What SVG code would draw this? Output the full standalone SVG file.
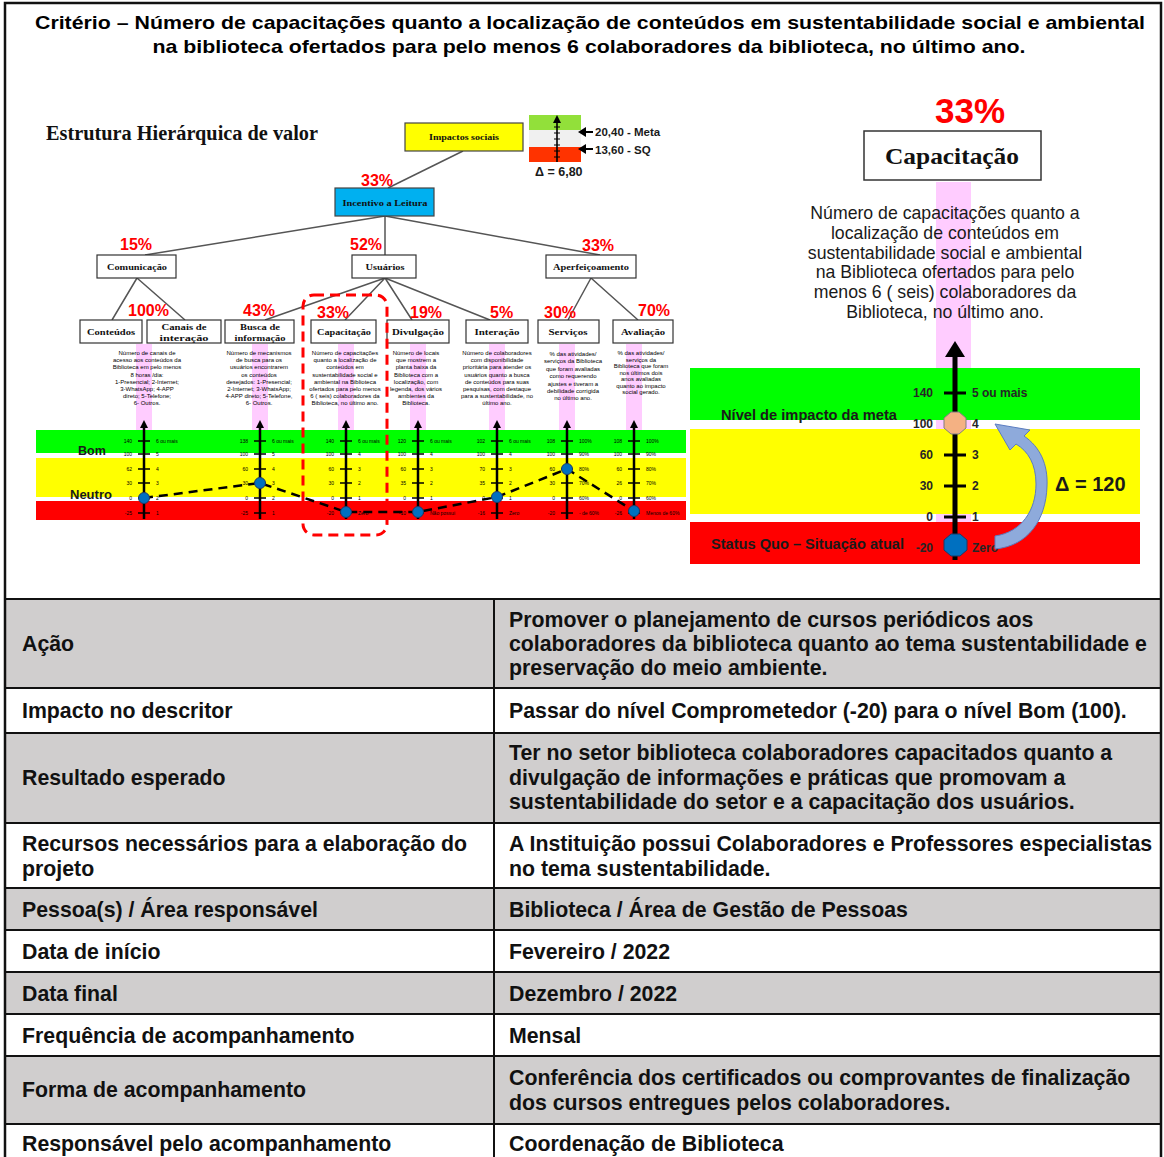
<svg xmlns="http://www.w3.org/2000/svg" width="1164" height="1157" viewBox="0 0 1164 1157">
<style>
.tt{font-family:"Liberation Sans",Arial,sans-serif;font-weight:bold;font-size:19px;fill:#000}
.tb{font-family:"Liberation Sans",Arial,sans-serif;font-weight:bold;font-size:21.3px;fill:#111}
.ser{font-family:"Liberation Serif","Times New Roman",serif;font-weight:bold;fill:#111}
.box{fill:#fff;stroke:#333;stroke-width:1.2}
.pct{font-family:"Liberation Sans",Arial,sans-serif;font-weight:bold;font-size:16px;fill:#ff0000}
.ln{stroke:#555;stroke-width:1.5;fill:none}
.ds{font-family:"Liberation Sans",Arial,sans-serif;font-size:6px;fill:#000;text-anchor:middle}
.tk{font-family:"Liberation Sans",Arial,sans-serif;font-size:5px;fill:#000}
.tkl{text-anchor:end}
.ax{stroke:#000;stroke-width:2.5}
.tick{stroke:#000;stroke-width:1.6}
.pt{fill:#0070c0;stroke:#1f3864;stroke-width:1}
.pink{fill:#ffccff}
.lab{font-family:"Liberation Sans",Arial,sans-serif;font-weight:bold;fill:#1a1a1a}
.rt{font-family:"Liberation Sans",Arial,sans-serif;font-size:17.7px;fill:#1a1a1a;text-anchor:middle}
.rk{font-family:"Liberation Sans",Arial,sans-serif;font-weight:bold;font-size:12px;fill:#262626}
.grid{stroke:#111;stroke-width:2}
</style>

<!-- table background -->
<g id="table">
<rect x="5" y="599" width="1157" height="89" fill="#d0cece"/>
<rect x="5" y="733" width="1157" height="90" fill="#d0cece"/>
<rect x="5" y="888" width="1157" height="42" fill="#d0cece"/>
<rect x="5" y="972" width="1157" height="42" fill="#d0cece"/>
<rect x="5" y="1056" width="1157" height="68" fill="#d0cece"/>
<rect x="5" y="3" width="1156" height="1165" fill="none" stroke="#111" stroke-width="2.5"/>
<path class="grid" d="M5 599H1162M5 688H1162M5 733H1162M5 823H1162M5 888H1162M5 930H1162M5 972H1162M5 1014H1162M5 1056H1162M5 1124H1162M494 599V1157"/>

<text class="tb" x="22" y="651">Ação</text>
<text class="tb" x="509" y="627">Promover o planejamento de cursos periódicos aos</text>
<text class="tb" x="509" y="651">colaboradores da biblioteca quanto ao tema sustentabilidade e</text>
<text class="tb" x="509" y="675">preservação do meio ambiente.</text>

<text class="tb" x="22" y="718">Impacto no descritor</text>
<text class="tb" x="509" y="718">Passar do nível Comprometedor (-20) para o nível Bom (100).</text>

<text class="tb" x="22" y="785">Resultado esperado</text>
<text class="tb" x="509" y="760">Ter no setor biblioteca colaboradores capacitados quanto a</text>
<text class="tb" x="509" y="785">divulgação de informações e práticas que promovam a</text>
<text class="tb" x="509" y="809">sustentabilidade do setor e a capacitação dos usuários.</text>

<text class="tb" x="22" y="851">Recursos necessários para a elaboração do</text>
<text class="tb" x="22" y="876">projeto</text>
<text class="tb" x="509" y="851">A Instituição possui Colaboradores e Professores especialistas</text>
<text class="tb" x="509" y="876">no tema sustentabilidade.</text>

<text class="tb" x="22" y="917">Pessoa(s) / Área responsável</text>
<text class="tb" x="509" y="917">Biblioteca / Área de Gestão de Pessoas</text>

<text class="tb" x="22" y="959">Data de início</text>
<text class="tb" x="509" y="959">Fevereiro / 2022</text>

<text class="tb" x="22" y="1001">Data final</text>
<text class="tb" x="509" y="1001">Dezembro / 2022</text>

<text class="tb" x="22" y="1043">Frequência de acompanhamento</text>
<text class="tb" x="509" y="1043">Mensal</text>

<text class="tb" x="22" y="1097">Forma de acompanhamento</text>
<text class="tb" x="509" y="1085">Conferência dos certificados ou comprovantes de finalização</text>
<text class="tb" x="509" y="1110">dos cursos entregues pelos colaboradores.</text>

<text class="tb" x="22" y="1151">Responsável pelo acompanhamento</text>
<text class="tb" x="509" y="1151">Coordenação de Biblioteca</text>
</g>

<g id="title">
<text class="tt" x="590" y="29" text-anchor="middle" textLength="1110" lengthAdjust="spacingAndGlyphs">Critério – Número de capacitações quanto a localização de conteúdos em sustentabilidade social e ambiental</text>
<text class="tt" x="589" y="53" text-anchor="middle" textLength="873" lengthAdjust="spacingAndGlyphs">na biblioteca ofertados para pelo menos 6 colaboradores da biblioteca, no último ano.</text>
</g>

<text class="ser" x="46" y="140" font-size="20" textLength="272" lengthAdjust="spacingAndGlyphs">Estrutura Hierárquica de valor</text>

<!-- mini scale -->
<g id="mini-scale">
<rect x="529" y="115" width="52" height="15" fill="#92e03a"/>
<rect x="529" y="130" width="52" height="17" fill="#f0f0f0"/>
<rect x="529" y="147" width="52" height="15" fill="#ff3300"/>
<line x1="557" y1="162" x2="557" y2="121" stroke="#000" stroke-width="1.6"/>
<polygon points="557,115 553,123 561,123" fill="#000"/>
<path d="M554 127h6M554 133h6M554 139h6M554 145h6M554 151h6M554 157h6" stroke="#000" stroke-width="1"/>
<path d="M593 132H584M593 149H584" stroke="#000" stroke-width="2.2"/>
<polygon points="578,132 586,127 586,137" fill="#000"/>
<polygon points="578,149 586,144 586,154" fill="#000"/>
<text class="lab" x="595" y="136" font-size="11.5">20,40 - Meta</text>
<text class="lab" x="595" y="154" font-size="11.5">13,60 - SQ</text>
<text class="lab" x="535" y="176" font-size="12.5">Δ = 6,80</text>
</g>

<!-- connectors -->
<g id="connectors">
<path class="ln" d="M463 151L388 188"/>
<path class="ln" d="M385 216L145 255M385 216V255M385 216L600 255"/>
<path class="ln" d="M137 278L112 320M137 278L185 320"/>
<path class="ln" d="M385 278L265 320M385 278L345 320M385 278L412 320M385 278L490 320"/>
<path class="ln" d="M591 278L568 320M591 278L638 320"/>
</g>

<!-- tree nodes -->
<g id="n-impactos">
<rect x="405" y="123" width="118" height="28" fill="#ffff00" stroke="#444" stroke-width="1.2"/>
<text class="ser" x="464" y="140" font-size="8.5" text-anchor="middle" textLength="70" lengthAdjust="spacingAndGlyphs">Impactos sociais</text>
</g>
<g id="n-incentivo">
<text class="pct" x="361" y="186">33%</text>
<rect x="335" y="188" width="99" height="28" fill="#00b0f0" stroke="#444" stroke-width="1.2"/>
<text class="ser" x="385" y="206" font-size="8.5" text-anchor="middle" textLength="85" lengthAdjust="spacingAndGlyphs">Incentivo a Leitura</text>
</g>
<g id="n-comunicacao">
<text class="pct" x="120" y="250">15%</text>
<rect class="box" x="97" y="255" width="79" height="23"/>
<text class="ser" x="137" y="270" font-size="9" text-anchor="middle" textLength="60" lengthAdjust="spacingAndGlyphs">Comunicação</text>
</g>
<g id="n-usuarios">
<text class="pct" x="350" y="250">52%</text>
<rect class="box" x="352" y="255" width="64" height="23"/>
<text class="ser" x="385" y="270" font-size="9" text-anchor="middle" textLength="39" lengthAdjust="spacingAndGlyphs">Usuários</text>
</g>
<g id="n-aperfeicoamento">
<text class="pct" x="582" y="251">33%</text>
<rect class="box" x="546" y="255" width="90" height="23"/>
<text class="ser" x="591" y="270" font-size="9" text-anchor="middle" textLength="76" lengthAdjust="spacingAndGlyphs">Aperfeiçoamento</text>
</g>

<text class="pct" x="128" y="316">100%</text>
<g id="n-conteudos">
<rect class="box" x="80" y="320" width="62" height="23"/>
<text class="ser" x="111" y="335" font-size="9" text-anchor="middle" textLength="48" lengthAdjust="spacingAndGlyphs">Conteúdos</text>
</g>
<g id="n-canais">
<rect class="box" x="147" y="320" width="74" height="23"/>
<text class="ser" x="184" y="330" font-size="9" text-anchor="middle" textLength="45" lengthAdjust="spacingAndGlyphs">Canais de</text>
<text class="ser" x="184" y="341" font-size="9" text-anchor="middle" textLength="49" lengthAdjust="spacingAndGlyphs">interação</text>
</g>
<g id="n-busca">
<text class="pct" x="243" y="316">43%</text>
<rect class="box" x="225" y="320" width="69" height="23"/>
<text class="ser" x="260" y="330" font-size="9" text-anchor="middle" textLength="40" lengthAdjust="spacingAndGlyphs">Busca de</text>
<text class="ser" x="260" y="341" font-size="9" text-anchor="middle" textLength="51" lengthAdjust="spacingAndGlyphs">informação</text>
</g>
<g id="n-capacitacao">
<text class="pct" x="317" y="318">33%</text>
<rect class="box" x="311" y="320" width="65" height="23"/>
<text class="ser" x="344" y="335" font-size="9" text-anchor="middle" textLength="54" lengthAdjust="spacingAndGlyphs">Capacitação</text>
</g>
<g id="n-divulgacao">
<text class="pct" x="410" y="318">19%</text>
<rect class="box" x="387" y="320" width="62" height="23"/>
<text class="ser" x="418" y="335" font-size="9" text-anchor="middle" textLength="52" lengthAdjust="spacingAndGlyphs">Divulgação</text>
</g>
<g id="n-interacao">
<text class="pct" x="490" y="318">5%</text>
<rect class="box" x="466" y="320" width="62" height="23"/>
<text class="ser" x="497" y="335" font-size="9" text-anchor="middle" textLength="45" lengthAdjust="spacingAndGlyphs">Interação</text>
</g>
<g id="n-servicos">
<text class="pct" x="544" y="318">30%</text>
<rect class="box" x="538" y="320" width="61" height="23"/>
<text class="ser" x="568" y="335" font-size="9" text-anchor="middle" textLength="39" lengthAdjust="spacingAndGlyphs">Serviços</text>
</g>
<g id="n-avaliacao">
<text class="pct" x="638" y="316">70%</text>
<rect class="box" x="613" y="320" width="60" height="23"/>
<text class="ser" x="643" y="335" font-size="9" text-anchor="middle" textLength="44" lengthAdjust="spacingAndGlyphs">Avaliação</text>
</g>

<!-- pink strips -->
<g id="pink-strips">
<rect class="pink" x="136" y="344" width="16" height="86"/>
<rect class="pink" x="252" y="344" width="16" height="86"/>
<rect class="pink" x="338" y="344" width="16" height="86"/>
<rect class="pink" x="410" y="344" width="16" height="86"/>
<rect class="pink" x="489" y="344" width="16" height="86"/>
<rect class="pink" x="559" y="344" width="16" height="86"/>
<rect class="pink" x="626" y="344" width="16" height="86"/>
</g>

<!-- descriptors -->
<g id="descriptors">
<text class="ds" x="147" y="355"><tspan x="147">Número de canais de</tspan><tspan x="147" dy="7.2">acesso aos conteúdos da</tspan><tspan x="147" dy="7.2">Biblioteca em pelo menos</tspan><tspan x="147" dy="7.2">8 horas /dia:</tspan><tspan x="147" dy="7.2">1-Presencial; 2-Internet;</tspan><tspan x="147" dy="7.2">3-WhatsApp; 4-APP</tspan><tspan x="147" dy="7.2">direto; 5-Telefone;</tspan><tspan x="147" dy="7.2">6- Outros.</tspan></text>
<text class="ds" x="259" y="355"><tspan x="259">Número de mecanismos</tspan><tspan x="259" dy="7.2">de busca para os</tspan><tspan x="259" dy="7.2">usuários encontrarem</tspan><tspan x="259" dy="7.2">os conteúdos</tspan><tspan x="259" dy="7.2">desejados: 1-Presencial;</tspan><tspan x="259" dy="7.2">2-Internet; 3-WhatsApp;</tspan><tspan x="259" dy="7.2">4-APP direto; 5-Telefone,</tspan><tspan x="259" dy="7.2">6- Outros.</tspan></text>
<text class="ds" x="345" y="355"><tspan x="345">Número de capacitações</tspan><tspan x="345" dy="7.2">quanto a localização de</tspan><tspan x="345" dy="7.2">conteúdos em</tspan><tspan x="345" dy="7.2">sustentabilidade social e</tspan><tspan x="345" dy="7.2">ambiental na Biblioteca</tspan><tspan x="345" dy="7.2">ofertados para pelo menos</tspan><tspan x="345" dy="7.2">6 ( seis) colaboradores da</tspan><tspan x="345" dy="7.2">Biblioteca, no último ano.</tspan></text>
<text class="ds" x="416" y="355"><tspan x="416">Número de locais</tspan><tspan x="416" dy="7.2">que mostrem a</tspan><tspan x="416" dy="7.2">planta baixa da</tspan><tspan x="416" dy="7.2">Biblioteca com a</tspan><tspan x="416" dy="7.2">localização, com</tspan><tspan x="416" dy="7.2">legenda, dos vários</tspan><tspan x="416" dy="7.2">ambientes da</tspan><tspan x="416" dy="7.2">Biblioteca.</tspan></text>
<text class="ds" x="497" y="355"><tspan x="497">Número de colaboradores</tspan><tspan x="497" dy="7.2">com disponibilidade</tspan><tspan x="497" dy="7.2">prioritária para atender os</tspan><tspan x="497" dy="7.2">usuários quanto a busca</tspan><tspan x="497" dy="7.2">de conteúdos para suas</tspan><tspan x="497" dy="7.2">pesquisas, com destaque</tspan><tspan x="497" dy="7.2">para a sustentabilidade, no</tspan><tspan x="497" dy="7.2">último ano.</tspan></text>
<text class="ds" x="573" y="356"><tspan x="573">% das atividades/</tspan><tspan x="573" dy="7.4">serviços da Biblioteca</tspan><tspan x="573" dy="7.4">que foram avaliadas</tspan><tspan x="573" dy="7.4">como requerendo</tspan><tspan x="573" dy="7.4">ajustes e tiveram a</tspan><tspan x="573" dy="7.4">debilidade corrigida</tspan><tspan x="573" dy="7.4">no último ano.</tspan></text>
<text class="ds" x="641" y="355" font-size="4.3"><tspan x="641">% das atividades/</tspan><tspan x="641" dy="6.5">serviços  da</tspan><tspan x="641" dy="6.5">Biblioteca que foram</tspan><tspan x="641" dy="6.5">nos últimos dois</tspan><tspan x="641" dy="6.5">anos avaliadas</tspan><tspan x="641" dy="6.5">quanto ao impacto</tspan><tspan x="641" dy="6.5">social gerado.</tspan></text>
</g>

<!-- left chart bands -->
<g id="bands-left">
<rect x="36" y="430" width="650" height="23" fill="#00ff00"/>
<rect x="36" y="458" width="650" height="39" fill="#ffff00"/>
<rect x="36" y="501" width="650" height="19" fill="#ff0000"/>
<text class="lab" x="78" y="455" font-size="12.5" fill="#111">Bom</text>
<text class="lab" x="70" y="499" font-size="13" fill="#111">Neutro</text>
</g>

<!-- axes -->
<g id="axis-1" transform="translate(144,0)">
<line class="ax" x1="0" y1="426" x2="0" y2="519"/><polygon points="0,420 -4,428 4,428"/>
<path class="tick" d="M-6 441h12M-6 454h12M-6 469h12M-6 483h12M-6 498h12M-6 513h12"/>
<text class="tk tkl" x="-12" y="443">140</text><text class="tk tkl" x="-12" y="456">100</text><text class="tk tkl" x="-12" y="471">62</text><text class="tk tkl" x="-12" y="485">30</text><text class="tk tkl" x="-12" y="500">0</text><text class="tk tkl" x="-12" y="515">-25</text>
<text class="tk" x="12" y="443">6 ou mais</text><text class="tk" x="12" y="456">5</text><text class="tk" x="12" y="471">4</text><text class="tk" x="12" y="485">3</text><text class="tk" x="12" y="500">2</text><text class="tk" x="12" y="515">1</text>
</g>
<g id="axis-2" transform="translate(260,0)">
<line class="ax" x1="0" y1="426" x2="0" y2="519"/><polygon points="0,420 -4,428 4,428"/>
<path class="tick" d="M-6 441h12M-6 454h12M-6 469h12M-6 483h12M-6 498h12M-6 513h12"/>
<text class="tk tkl" x="-12" y="443">138</text><text class="tk tkl" x="-12" y="456">100</text><text class="tk tkl" x="-12" y="471">60</text><text class="tk tkl" x="-12" y="485">30</text><text class="tk tkl" x="-12" y="500">0</text><text class="tk tkl" x="-12" y="515">-25</text>
<text class="tk" x="12" y="443">6 ou mais</text><text class="tk" x="12" y="456">5</text><text class="tk" x="12" y="471">4</text><text class="tk" x="12" y="485">3</text><text class="tk" x="12" y="500">2</text><text class="tk" x="12" y="515">1</text>
</g>
<g id="axis-3" transform="translate(346,0)">
<line class="ax" x1="0" y1="426" x2="0" y2="519"/><polygon points="0,420 -4,428 4,428"/>
<path class="tick" d="M-6 441h12M-6 454h12M-6 469h12M-6 483h12M-6 498h12M-6 513h12"/>
<text class="tk tkl" x="-12" y="443">140</text><text class="tk tkl" x="-12" y="456">100</text><text class="tk tkl" x="-12" y="471">60</text><text class="tk tkl" x="-12" y="485">30</text><text class="tk tkl" x="-12" y="500">0</text><text class="tk tkl" x="-12" y="515">-20</text>
<text class="tk" x="12" y="443">6 ou mais</text><text class="tk" x="12" y="456">4</text><text class="tk" x="12" y="471">3</text><text class="tk" x="12" y="485">2</text><text class="tk" x="12" y="500">1</text><text class="tk" x="12" y="515">Zero</text>
</g>
<g id="axis-4" transform="translate(418,0)">
<line class="ax" x1="0" y1="426" x2="0" y2="519"/><polygon points="0,420 -4,428 4,428"/>
<path class="tick" d="M-6 441h12M-6 454h12M-6 469h12M-6 483h12M-6 498h12M-6 513h12"/>
<text class="tk tkl" x="-12" y="443">120</text><text class="tk tkl" x="-12" y="456">100</text><text class="tk tkl" x="-12" y="471">60</text><text class="tk tkl" x="-12" y="485">35</text><text class="tk tkl" x="-12" y="500">0</text><text class="tk tkl" x="-12" y="515">-10</text>
<text class="tk" x="12" y="443">6 ou mais</text><text class="tk" x="12" y="456">4</text><text class="tk" x="12" y="471">3</text><text class="tk" x="12" y="485">2</text><text class="tk" x="12" y="500">1</text><text class="tk" x="12" y="515">Não possui</text>
</g>
<g id="axis-5" transform="translate(497,0)">
<line class="ax" x1="0" y1="426" x2="0" y2="519"/><polygon points="0,420 -4,428 4,428"/>
<path class="tick" d="M-6 441h12M-6 454h12M-6 469h12M-6 483h12M-6 498h12M-6 513h12"/>
<text class="tk tkl" x="-12" y="443">102</text><text class="tk tkl" x="-12" y="456">100</text><text class="tk tkl" x="-12" y="471">70</text><text class="tk tkl" x="-12" y="485">35</text><text class="tk tkl" x="-12" y="500">0</text><text class="tk tkl" x="-12" y="515">-16</text>
<text class="tk" x="12" y="443">6 ou mais</text><text class="tk" x="12" y="456">4</text><text class="tk" x="12" y="471">3</text><text class="tk" x="12" y="485">2</text><text class="tk" x="12" y="500">1</text><text class="tk" x="12" y="515">Zero</text>
</g>
<g id="axis-6" transform="translate(567,0)">
<line class="ax" x1="0" y1="426" x2="0" y2="519"/><polygon points="0,420 -4,428 4,428"/>
<path class="tick" d="M-6 441h12M-6 454h12M-6 469h12M-6 483h12M-6 498h12M-6 513h12"/>
<text class="tk tkl" x="-12" y="443">108</text><text class="tk tkl" x="-12" y="456">100</text><text class="tk tkl" x="-12" y="471">60</text><text class="tk tkl" x="-12" y="485">30</text><text class="tk tkl" x="-12" y="500">0</text><text class="tk tkl" x="-12" y="515">-20</text>
<text class="tk" x="12" y="443">100%</text><text class="tk" x="12" y="456">90%</text><text class="tk" x="12" y="471">80%</text><text class="tk" x="12" y="485">70%</text><text class="tk" x="12" y="500">60%</text><text class="tk" x="12" y="515">- de 60%</text>
</g>
<g id="axis-7" transform="translate(634,0)">
<line class="ax" x1="0" y1="426" x2="0" y2="519"/><polygon points="0,420 -4,428 4,428"/>
<path class="tick" d="M-6 441h12M-6 454h12M-6 469h12M-6 483h12M-6 498h12M-6 513h12"/>
<text class="tk tkl" x="-12" y="443">108</text><text class="tk tkl" x="-12" y="456">100</text><text class="tk tkl" x="-12" y="471">60</text><text class="tk tkl" x="-12" y="485">26</text><text class="tk tkl" x="-12" y="500">0</text><text class="tk tkl" x="-12" y="515">-26</text>
<text class="tk" x="12" y="443">100%</text><text class="tk" x="12" y="456">90%</text><text class="tk" x="12" y="471">80%</text><text class="tk" x="12" y="485">70%</text><text class="tk" x="12" y="500">60%</text><text class="tk" x="12" y="515">Menos de 60%</text>
</g>

<g id="profile">
<polyline points="144,498 260,483 346,512 418,512 497,497 567,469 634,511" fill="none" stroke="#000" stroke-width="2.5" stroke-dasharray="9 6"/>
<circle class="pt" cx="144" cy="498" r="5.5"/>
<circle class="pt" cx="260" cy="483" r="5.5"/>
<circle class="pt" cx="346" cy="512" r="5.5"/>
<circle class="pt" cx="418" cy="512" r="5.5"/>
<circle class="pt" cx="497" cy="497" r="5.5"/>
<circle class="pt" cx="567" cy="469" r="5.5"/>
<circle class="pt" cx="634" cy="511" r="5.5"/>
</g>

<rect id="highlight" x="303" y="295" width="84" height="240" rx="11" fill="none" stroke="#ff0000" stroke-width="3" stroke-dasharray="10 6"/>

<!-- right panel -->
<g id="right-node">
<text x="970" y="123" font-family="Liberation Sans, Arial, sans-serif" font-weight="bold" font-size="35" fill="#ff0000" text-anchor="middle">33%</text>
<rect x="864" y="131" width="177" height="49" fill="#fff" stroke="#333" stroke-width="1.5"/>
<text class="ser" x="952" y="164" font-size="23" text-anchor="middle" textLength="134" lengthAdjust="spacingAndGlyphs">Capacitação</text>
<rect class="pink" x="936" y="182" width="35" height="340"/>
<text class="rt" x="945" y="219">Número de capacitações quanto a</text>
<text class="rt" x="945" y="238.8">localização de conteúdos em</text>
<text class="rt" x="945" y="258.6">sustentabilidade social e ambiental</text>
<text class="rt" x="945" y="278.4">na Biblioteca ofertados para pelo</text>
<text class="rt" x="945" y="298.2">menos 6 ( seis) colaboradores da</text>
<text class="rt" x="945" y="318">Biblioteca, no último ano.</text>
</g>

<g id="bands-right">
<rect x="690" y="368" width="450" height="52" fill="#00ff00"/>
<rect x="690" y="429" width="450" height="85" fill="#ffff00"/>
<rect x="690" y="522" width="450" height="42" fill="#ff0000"/>
<text class="lab" x="721" y="420" font-size="14.5" textLength="176" lengthAdjust="spacingAndGlyphs">Nível de impacto da meta</text>
<text class="lab" x="711" y="549" font-size="14.5" textLength="193" lengthAdjust="spacingAndGlyphs">Status Quo – Situação atual</text>
</g>

<g id="axis-right">
<line x1="955" y1="354" x2="955" y2="560" stroke="#000" stroke-width="5"/>
<polygon points="955,341 945,357 965,357" fill="#000"/>
<path d="M944 393h22M944 424h22M944 455h22M944 486h22M944 517h22M944 548h22" stroke="#000" stroke-width="3"/>
<text class="rk" x="933" y="397" text-anchor="end">140</text>
<text class="rk" x="933" y="428" text-anchor="end">100</text>
<text class="rk" x="933" y="459" text-anchor="end">60</text>
<text class="rk" x="933" y="490" text-anchor="end">30</text>
<text class="rk" x="933" y="521" text-anchor="end">0</text>
<text class="rk" x="933" y="552" text-anchor="end">-20</text>
<text class="rk" x="972" y="397">5 ou mais</text>
<text class="rk" x="972" y="428">4</text>
<text class="rk" x="972" y="459">3</text>
<text class="rk" x="972" y="490">2</text>
<text class="rk" x="972" y="521">1</text>
<text class="rk" x="972" y="552">Zero</text>
<polygon points="951,412 959,412 966,418 966,428 959,434 951,434 944,428 944,418" fill="#f4b183" stroke="#7f7f7f" stroke-width="1"/>
<polygon points="951,534 960,534 967,540 967,550 960,556 951,556 944,550 944,540" fill="#0070c0" stroke="#1f3864" stroke-width="1"/>
</g>

<g id="delta-arrow">
<path d="M995 536C1022 532 1036 510 1036 484C1036 464 1028 451 1016 444L1010 450L995 424L1030 430L1024 436C1040 447 1048 464 1047 486C1046 520 1028 546 995 549Z" fill="#8eaadb" stroke="#5b7cc0" stroke-width="1"/>
<text class="lab" x="1055" y="491" font-size="20" fill="#111">Δ = 120</text>
</g>
</svg>
